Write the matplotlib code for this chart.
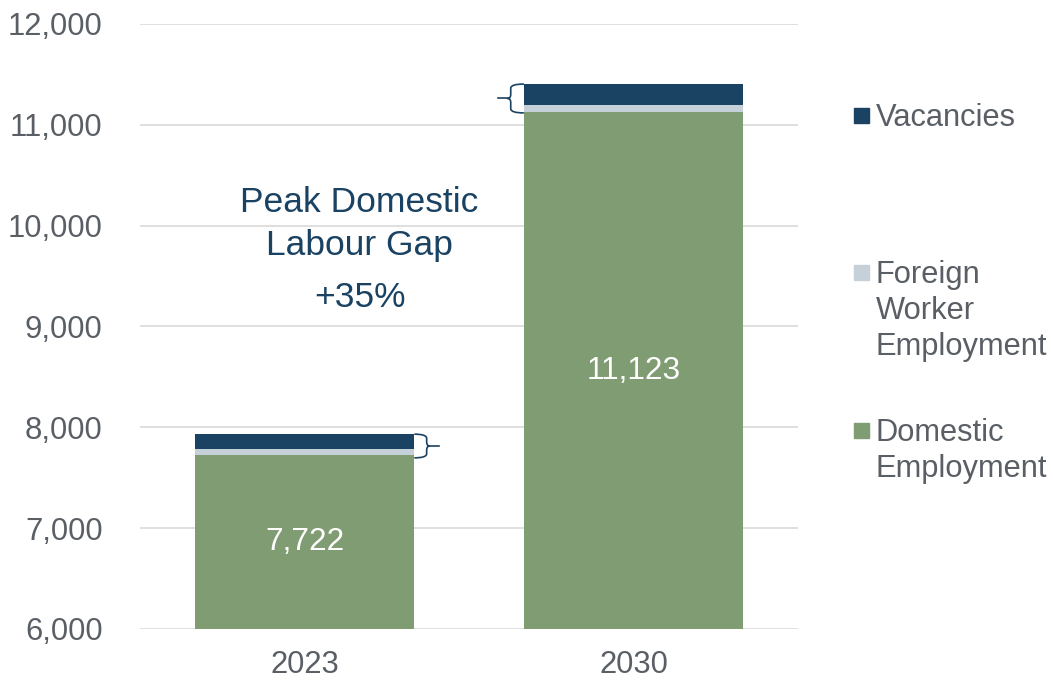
import matplotlib
matplotlib.use('Agg')
import matplotlib.pyplot as plt
from matplotlib.path import Path
from matplotlib.patches import PathPatch, Rectangle

plt.rcParams['font.family'] = ['Liberation Sans', 'DejaVu Sans']

years = ['2023', '2030']
domestic = [7722, 11123]
foreign = [60, 73]
vacancies = [150, 208]

GREEN = '#7f9c72'
LIGHT = '#c5d0d8'
NAVY = '#1a4262'
GREY_TXT = '#5a5f66'


def brace(ax, x, ytop, ybot, w, d):
    # curly brace along a bar edge, d=+1 opens to the right, -1 to the left
    xm = x + d * w * 0.5
    xt = x + d * w * 0.62
    ymid = (ytop + ybot) / 2
    r = 40
    verts = [(x, ytop), (xm, ytop), (xm, ytop - r),
             (xm, ymid + r), (xm, ymid), (xt, ymid),
             (xm, ymid), (xm, ymid - r),
             (xm, ybot + r), (xm, ybot), (x, ybot)]
    codes = [Path.MOVETO, Path.CURVE3, Path.CURVE3,
             Path.LINETO, Path.CURVE3, Path.CURVE3,
             Path.CURVE3, Path.CURVE3,
             Path.LINETO, Path.CURVE3, Path.CURVE3]
    ax.add_patch(PathPatch(Path(verts, codes), fill=False, edgecolor=NAVY, lw=1.2))
    ax.plot([xt, x + d * w], [ymid, ymid], color=NAVY, lw=1.2)


fig = plt.figure(figsize=(10.53, 6.81), dpi=100)
ax = fig.add_axes([0.133, 0.0764, 0.625, 0.8884])

xs = range(len(years))
bw = 0.667
bottoms2 = [a + b for a, b in zip(domestic, foreign)]
ax.bar(xs, domestic, bw, color=GREEN, zorder=2)
ax.bar(xs, foreign, bw, bottom=domestic, color=LIGHT, zorder=2)
ax.bar(xs, vacancies, bw, bottom=bottoms2, color=NAVY, zorder=2)

ax.set_ylim(6000, 12000)
ax.set_xlim(-0.5, 1.5)
ax.set_yticks(range(6000, 12001, 1000))
ax.set_yticklabels([f'{v:,}' for v in range(6000, 12001, 1000)])
ax.set_xticks(list(xs))
ax.set_xticklabels(years)
ax.yaxis.grid(True, color='#d9d9d9', lw=1.2, zorder=0)
ax.set_axisbelow(True)
for s in ax.spines.values():
    s.set_visible(False)
ax.tick_params(length=0, labelsize=22.3, colors=GREY_TXT)
ax.tick_params(axis='y', pad=27)
ax.tick_params(axis='x', pad=15)

for i in xs:
    ax.text(i, (6000 + domestic[i]) / 2, f'{domestic[i]:,}', color='white',
            fontsize=22.7, ha='center', va='center', zorder=3)

tot = [a + b + c for a, b, c in zip(domestic, foreign, vacancies)]
brace(ax, 0 + bw / 2, tot[0], domestic[0] - 25, 0.075, 1)
brace(ax, 1 - bw / 2, tot[1], domestic[1] - 5, 0.08, -1)

ax.text(0.167, 10020, 'Peak Domestic\nLabour Gap', color=NAVY, fontsize=25.5,
        ha='center', va='center', linespacing=1.38)
ax.text(0.167, 9290, '+35%', color=NAVY, fontsize=25.5, ha='center', va='center')

# legend drawn by hand to match the uneven spacing
legend = [('Vacancies', NAVY, 115), ('Foreign\nWorker\nEmployment', LIGHT, 272),
          ('Domestic\nEmployment', GREEN, 430)]
W, H = 1053, 681
for label, col, ypx in legend:
    fig.patches.append(Rectangle((854 / W, 1 - (ypx + 8) / H), 15 / W, 15 / H,
                                 transform=fig.transFigure, color=col))
    fig.text(876 / W, 1 - (ypx - 12) / H, label, color=GREY_TXT, fontsize=22.2,
             ha='left', va='top', linespacing=1.27)

fig.savefig('out.png', dpi=100)
